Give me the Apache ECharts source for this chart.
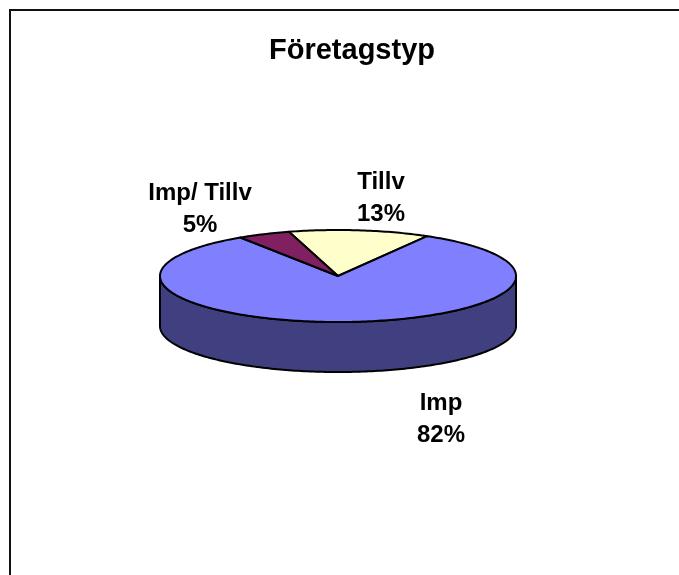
<!DOCTYPE html>
<html>
<head>
<meta charset="utf-8">
<title>Företagstyp</title>
<script src="https://cdn.jsdelivr.net/npm/echarts@6/dist/echarts.min.js"></script>
<style>
  html, body { margin: 0; padding: 0; background: #fff; }
  #chart { width: 679px; height: 575px; }
</style>
</head>
<body>
<div id="chart"></div>
<script>
// data, clockwise starting from the Tillv slice
const categories = ['Tillv', 'Imp', 'Imp/ Tillv']
const shares = [12.8, 82.4, 4.8]

// styles and layout, one entry per category
const topColors = ['#FFFFCC', '#8080FF', '#802060']
const wallColors = ['#808066', '#404080', '#401030']
const labelAnchors = [[381, 198], [441, 419], [200, 209]]

const FONT = '"Liberation Sans", Arial, sans-serif'
const CENTER_X = 338
const CENTER_Y = 276
const RADIUS_X = 178
const RADIUS_Y = 46
const DEPTH = 50
const START_ANGLE = -16

const total = shares.reduce((a, b) => a + b, 0)

// point on the ellipse, angle in degrees clockwise from the top
function rim(deg, drop = 0) {
  const r = deg * Math.PI / 180
  return [CENTER_X + RADIUS_X * Math.sin(r), CENTER_Y - RADIUS_Y * Math.cos(r) + drop]
}

function arcPoints(from, to, drop = 0) {
  const pts = []
  const steps = Math.max(2, Math.ceil(Math.abs(to - from)))
  for (let i = 0; i <= steps; i++) {
    pts.push(rim(from + (to - from) * i / steps, drop))
  }
  return pts
}

function renderSlice(params, api) {
  const i = params.dataIndex
  const before = shares.slice(0, i).reduce((a, b) => a + b, 0)
  const from = START_ANGLE + before / total * 360
  const to = from + api.value(1) / total * 360
  const children = []

  // only the front half of the rim has a visible side wall
  const wallFrom = Math.max(from, 90)
  const wallTo = Math.min(to, 270)
  if (wallTo > wallFrom) {
    children.push({
      type: 'polygon',
      shape: { points: arcPoints(wallFrom, wallTo).concat(arcPoints(wallTo, wallFrom, DEPTH)) },
      style: { fill: wallColors[i], stroke: '#000', lineWidth: 2, lineJoin: 'round' }
    })
  }

  children.push({
    type: 'polygon',
    shape: { points: [[CENTER_X, CENTER_Y]].concat(arcPoints(from, to)) },
    style: { fill: topColors[i], stroke: '#000', lineWidth: 2, lineJoin: 'round' }
  })

  children.push({
    type: 'text',
    style: {
      x: labelAnchors[i][0],
      y: labelAnchors[i][1],
      text: categories[i] + '\n' + Math.round(api.value(1)) + '%',
      font: 'bold 24px ' + FONT,
      lineHeight: 32,
      fill: '#000',
      align: 'center',
      verticalAlign: 'middle'
    }
  })

  return { type: 'group', children }
}

const chart = echarts.init(document.getElementById('chart'), null, { renderer: 'canvas' })

chart.setOption({
  animation: false,
  backgroundColor: '#fff',
  title: {
    text: 'Företagstyp',
    left: 347,
    top: 31,
    textAlign: 'center',
    textStyle: { fontFamily: FONT, fontWeight: 'bold', fontSize: 29, color: '#000' }
  },
  // chart area frame, runs off the right and bottom of the window
  graphic: [{
    type: 'rect',
    silent: true,
    shape: { x: 10, y: 10, width: 800, height: 800 },
    style: { fill: 'none', stroke: '#111', lineWidth: 2 }
  }],
  series: [{
    type: 'custom',
    coordinateSystem: 'none',
    silent: true,
    renderItem: renderSlice,
    data: categories.map((name, i) => ({ name, value: [i, shares[i]] }))
  }]
})
</script>
</body>
</html>
